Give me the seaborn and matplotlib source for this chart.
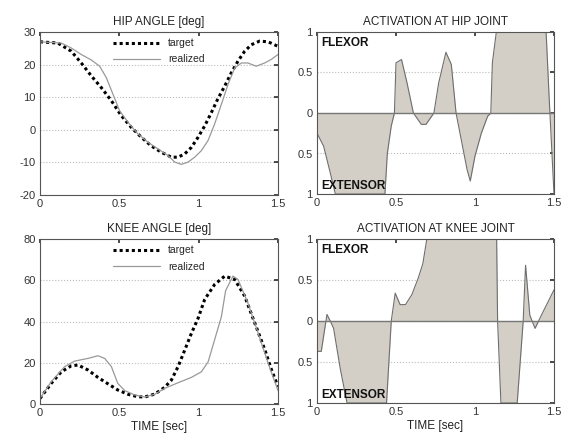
import numpy as np
import pandas as pd
import matplotlib
matplotlib.use("Agg")
import matplotlib.pyplot as plt
import seaborn as sns

# ---------------- data ----------------
hip_target_t = [0, 0.113, 0.197, 0.26, 0.324, 0.387, 0.45, 0.513, 0.576, 0.639, 0.70, 0.765, 0.828, 0.87, 0.912, 0.954,
                0.996, 1.038, 1.08, 1.12, 1.164, 1.206, 1.248, 1.29, 1.332, 1.384, 1.437, 1.5]
hip_target_v = [27.0, 26.6, 24.1, 20.5, 16.5, 12.9, 8.9, 4.3, 0.7, -2.3, -4.9, -6.9, -8.4, -8.4, -7.4, -5.4,
                -2.3, 1.2, 5.3, 9.4, 13.4, 17.5, 21.1, 24.1, 26.1, 27.2, 27.0, 25.6]
hip_real_t = [0, 0.134, 0.197, 0.26, 0.324, 0.376, 0.418, 0.46, 0.502, 0.555, 0.618, 0.68, 0.744, 0.807, 0.849, 0.891,
              0.933, 0.975, 1.017, 1.059, 1.10, 1.143, 1.185, 1.227, 1.27, 1.31, 1.363, 1.416, 1.458, 1.5]
hip_real_v = [27.0, 26.6, 25.1, 23.1, 21.4, 19.5, 16.0, 10.9, 5.8, 2.3, -1.3, -3.8, -5.9, -7.9, -9.9, -10.6,
              -9.9, -8.4, -6.4, -3.3, 1.7, 7.8, 13.9, 19.0, 20.5, 20.5, 19.5, 20.5, 21.6, 23.1]

knee_target_t = [0, 0.071, 0.134, 0.197, 0.24, 0.302, 0.365, 0.43, 0.49, 0.555, 0.618, 0.66, 0.723, 0.786, 0.828, 0.87,
                 0.912, 0.954, 0.996, 1.038, 1.101, 1.164, 1.227, 1.29, 1.353, 1.416, 1.458, 1.5]
knee_target_v = [2.7, 10.0, 15.6, 18.5, 18.9, 16.5, 12.9, 9.7, 6.8, 4.7, 3.5, 3.4, 4.8, 8.1, 11.6, 18.1,
                 26.1, 34.2, 41.5, 50.7, 58.0, 62.0, 60.4, 52.3, 39.4, 26.5, 16.8, 8.4]
knee_real_t = [0, 0.071, 0.155, 0.218, 0.302, 0.365, 0.408, 0.45, 0.49, 0.534, 0.597, 0.66, 0.723, 0.786, 0.87, 0.954,
               1.017, 1.06, 1.10, 1.143, 1.17, 1.216, 1.248, 1.31, 1.374, 1.437, 1.5]
knee_real_v = [2.7, 10.8, 18.1, 20.8, 22.1, 23.4, 22.1, 18.1, 10.0, 6.5, 4.4, 3.4, 4.7, 7.6, 10.3, 12.9,
               15.6, 20.5, 31.0, 42.3, 55.0, 62.0, 60.4, 49.0, 34.6, 20.0, 6.5]

hip_act_t = [0, 0.042, 0.084, 0.116, 0.2, 0.3, 0.43, 0.445, 0.47, 0.49, 0.5, 0.535, 0.57, 0.61, 0.66, 0.69, 0.74, 0.77,
             0.816, 0.85, 0.88, 0.95, 0.97, 1.0, 1.04, 1.08, 1.1, 1.11, 1.135, 1.3, 1.45, 1.47, 1.5]
hip_act_v = [-0.25, -0.41, -0.74, -1.0, -1.0, -1.0, -1.0, -0.5, -0.16, 0.0, 0.62, 0.66, 0.37, 0.0, -0.14, -0.14, 0.0, 0.37,
             0.75, 0.6, 0.0, -0.70, -0.84, -0.53, -0.25, -0.04, 0.0, 0.62, 1.0, 1.0, 1.0, 0.16, -1.0]

knee_act_t = [0, 0.027, 0.063, 0.084, 0.105, 0.147, 0.19, 0.3, 0.44, 0.47, 0.495, 0.526, 0.56, 0.6, 0.64, 0.67, 0.695,
              0.9, 1.137, 1.143, 1.164, 1.22, 1.267, 1.305, 1.32, 1.347, 1.38, 1.42, 1.5]
knee_act_v = [-0.37, -0.37, 0.08, 0.0, -0.09, -0.58, -1.0, -1.0, -1.0, 0.0, 0.34, 0.2, 0.2, 0.32, 0.52, 0.7, 1.0,
              1.0, 1.0, 0.0, -1.0, -1.0, -1.0, 0.0, 0.68, 0.07, -0.09, 0.07, 0.38]

angle_titles = ["HIP ANGLE [deg]", "KNEE ANGLE [deg]"]
act_titles = ["ACTIVATION AT HIP JOINT", "ACTIVATION AT KNEE JOINT"]
x_ticks = [0, 0.5, 1, 1.5]
x_ticklabels = ["0", "0.5", "1", "1.5"]
act_ticks = [-1, -0.5, 0, 0.5, 1]
act_ticklabels = ["1", "0.5", "0", "0.5", "1"]
hip_yticks = [-20, -10, 0, 10, 20, 30]
knee_yticks = [0, 20, 40, 60, 80]

# ---------------- style ----------------
sns.set_theme(style="white")
plt.rcParams["font.family"] = ["Liberation Sans", "DejaVu Sans"]
plt.rcParams["axes.unicode_minus"] = False

fig = plt.figure(figsize=(5.71, 4.36), dpi=100)
W, H = 571, 436
def pos(l, t, r, b):
    return [l / W, 1 - b / H, (r - l) / W, (b - t) / H]

ax_hip = fig.add_axes(pos(40, 32, 278, 195))
ax_hact = fig.add_axes(pos(317, 32, 554, 194))
ax_knee = fig.add_axes(pos(40, 239, 278, 404))
ax_kact = fig.add_axes(pos(317, 239, 554, 403))

fill_col = "#d3cfc7"
edge_col = "#6e6e6e"

def style_axes(ax):
    for s in ax.spines.values():
        s.set_color("#555555")
        s.set_linewidth(0.8)
    ax.tick_params(axis="both", direction="in", length=3, labelsize=8, pad=3,
                   colors="#333333", top=True, right=True)
    ax.grid(axis="y", linestyle=":", color="#bbbbbb", linewidth=0.8)
    ax.set_xlim(0, 1.5)
    ax.set_xticks(x_ticks)
    ax.set_xticklabels(x_ticklabels)

def angle_plot(ax, tt, tv, rt, rv, title, yticks):
    dft = pd.DataFrame({"t": tt, "v": tv})
    dfr = pd.DataFrame({"t": rt, "v": rv})
    sns.lineplot(data=dft, x="t", y="v", ax=ax, color="black", linewidth=2.2,
                 linestyle=(0, (1, 1)), label="target")
    sns.lineplot(data=dfr, x="t", y="v", ax=ax, color="#999999", linewidth=0.9,
                 label="realized")
    style_axes(ax)
    ax.set_ylim(yticks[0], yticks[-1])
    ax.set_yticks(yticks)
    ax.set_xlabel("")
    ax.set_ylabel("")
    ax.set_title(title, fontsize=8.5, pad=5, color="#222222")
    ax.legend(loc="upper center", frameon=False, fontsize=7.5,
              handlelength=4.5, labelspacing=0.6, borderaxespad=0.2)

def act_plot(ax, t, v, title):
    df = pd.DataFrame({"t": t, "v": v})
    ax.fill_between(df["t"], df["v"], 0, color=fill_col, linewidth=0)
    sns.lineplot(data=df, x="t", y="v", ax=ax, color=edge_col, linewidth=0.8)
    ax.axhline(0, color="#777777", linewidth=1.0)
    style_axes(ax)
    ax.set_ylim(-1, 1)
    ax.set_yticks(act_ticks)
    ax.set_yticklabels(act_ticklabels)
    ax.set_xlabel("")
    ax.set_ylabel("")
    ax.set_title(title, fontsize=8.5, pad=5, color="#222222")
    ax.text(0.02, 0.97, "FLEXOR", transform=ax.transAxes, fontsize=8.5,
            fontweight="bold", va="top", ha="left", color="#111111")
    ax.text(0.02, 0.015, "EXTENSOR", transform=ax.transAxes, fontsize=8.5,
            fontweight="bold", va="bottom", ha="left", color="#111111")

angle_plot(ax_hip, hip_target_t, hip_target_v, hip_real_t, hip_real_v, angle_titles[0], hip_yticks)
angle_plot(ax_knee, knee_target_t, knee_target_v, knee_real_t, knee_real_v, angle_titles[1], knee_yticks)
act_plot(ax_hact, hip_act_t, hip_act_v, act_titles[0])
act_plot(ax_kact, knee_act_t, knee_act_v, act_titles[1])

ax_knee.set_xlabel("TIME [sec]", fontsize=8.5, labelpad=2, color="#222222")
ax_kact.set_xlabel("TIME [sec]", fontsize=8.5, labelpad=2, color="#222222")

fig.savefig("out.png", dpi=100, facecolor="white")
